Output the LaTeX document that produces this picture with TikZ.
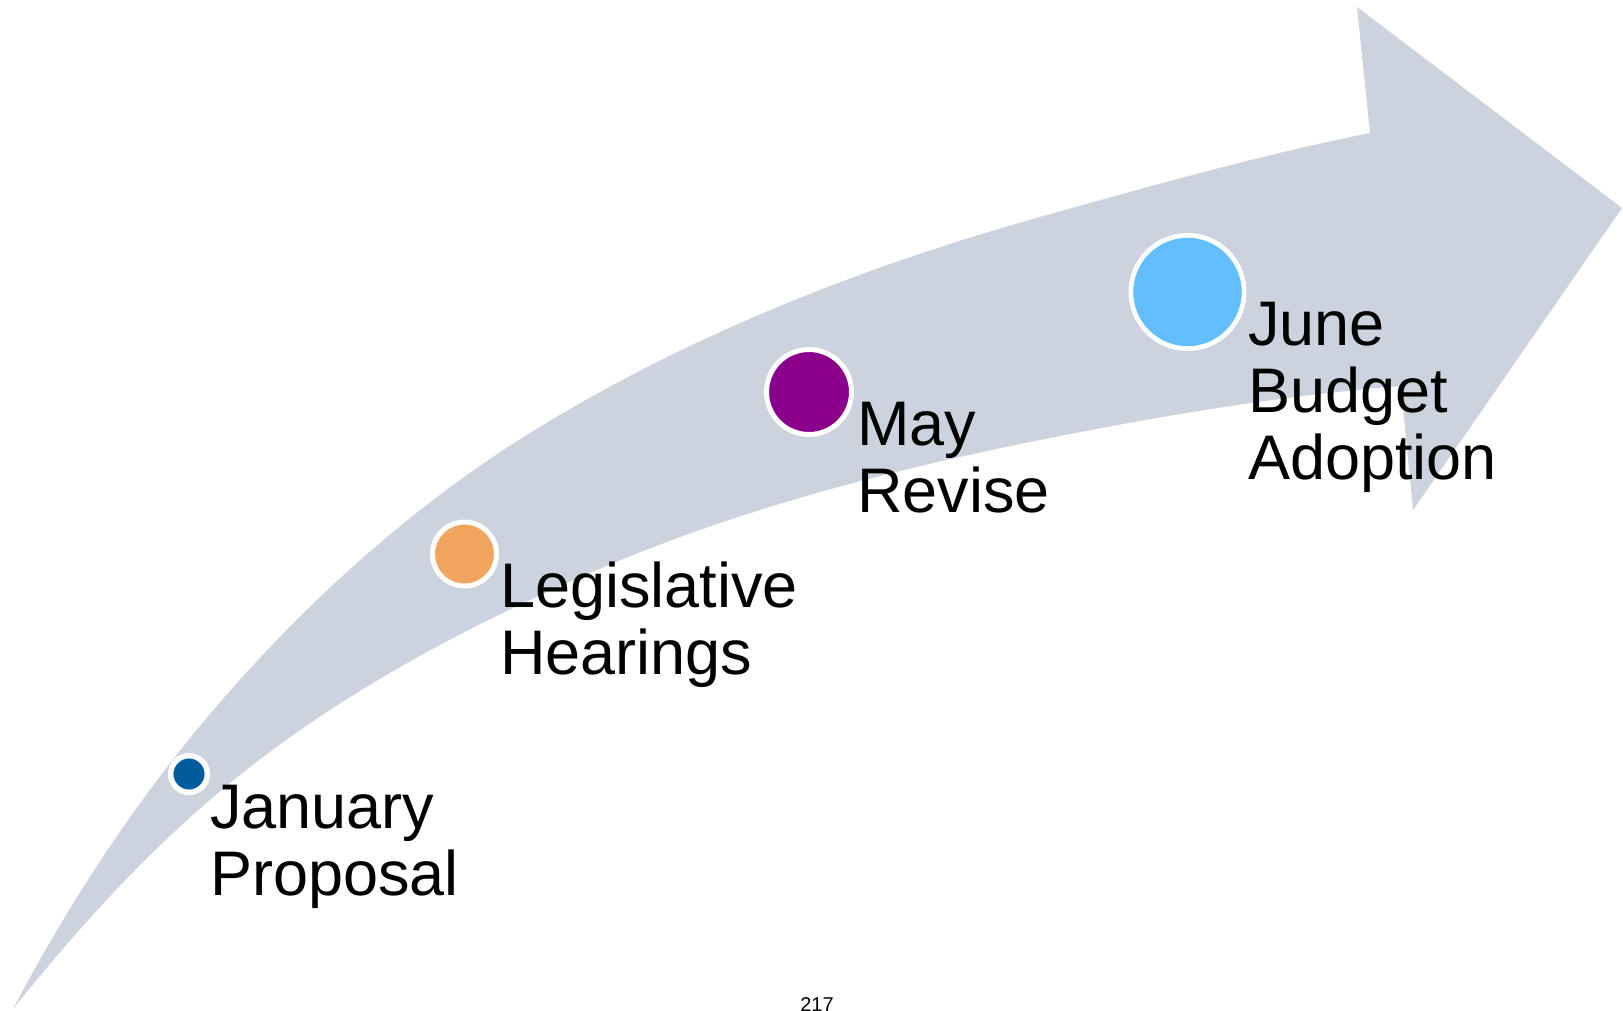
\documentclass[tikz,border=0pt]{standalone}
\usepackage{fontspec}
\setmainfont{Liberation Sans}
\definecolor{band}{RGB}{204,211,223}
\definecolor{cjan}{RGB}{0,92,157}
\definecolor{cleg}{RGB}{240,164,94}
\definecolor{cmay}{RGB}{139,0,139}
\definecolor{cjune}{RGB}{99,190,253}
\begin{document}
\begin{tikzpicture}[x=1pt,y=-1pt,
  mdot/.style={circle, draw=white, line width=5pt, inner sep=0pt, minimum size=#1},
  mtext/.style={anchor=base west, inner sep=0pt, font=\fontsize{63}{67}\selectfont}]
\useasboundingbox (0,0) rectangle (1623,1010);
% curved arrow
\fill[band] (13,1009)
  .. controls (70.9,899) and (140.4,793.8) .. (222,700)
  .. controls (311.2,597.5) and (414.5,504.6) .. (530,433)
  .. controls (686.9,335.7) and (862.2,266.8) .. (1040,217)
  .. controls (1149.3,186.4) and (1258.7,155.3) .. (1370,133)
  -- (1357,7) -- (1622,208) -- (1413,510) -- (1401,386)
  .. controls (1279.7,395.7) and (1159.3,416.1) .. (1040,440)
  .. controls (889.1,470.2) and (738.4,509.2) .. (597,570)
  .. controls (474.8,622.5) and (354.9,685.2) .. (250,767)
  .. controls (161,836.4) and (83.5,920.8) .. (13,1009) -- cycle;
% milestones
\node[mdot=36.7pt, line width=5.5pt, fill=cjan] (jan) at (189,774) {};
\node[mdot=64pt, fill=cleg] (leg) at (464.5,554) {};
\node[mdot=85pt, fill=cmay] (may) at (809,392) {};
\node[mdot=113.3pt, line width=4.7pt, fill=cjune] (june) at (1187.5,292) {};
% labels
\node[mtext] (janlbl) at (210,828) {\begin{tabular}[t]{@{}l@{}}January\\Proposal\end{tabular}};
\node[mtext] (leglbl) at (500,607) {\begin{tabular}[t]{@{}l@{}}Legislative\\Hearings\end{tabular}};
\node[mtext] (maylbl) at (857,445) {\begin{tabular}[t]{@{}l@{}}May\\Revise\end{tabular}};
\node[mtext] (junelbl) at (1248,345) {\begin{tabular}[t]{@{}l@{}}June\\Budget\\Adoption\end{tabular}};
% page number
\node[anchor=base, inner sep=0pt, font=\fontsize{20}{24}\selectfont] (pagenum) at (817,1011.5) {217};
\end{tikzpicture}
\end{document}
